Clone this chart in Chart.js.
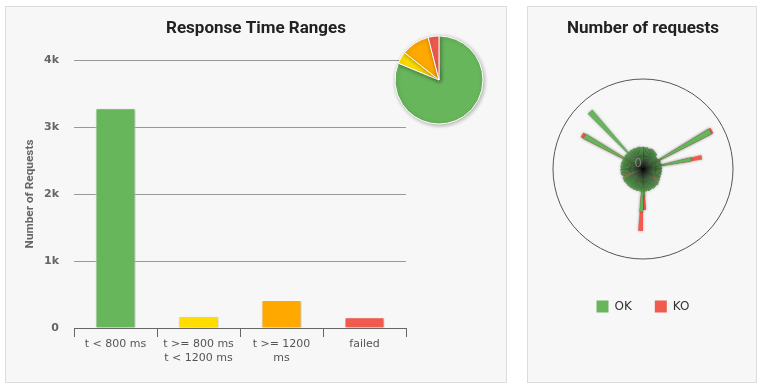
<!DOCTYPE html>
<html><head><meta charset="utf-8">
<script src="https://cdn.jsdelivr.net/npm/chart.js@4.4.1/dist/chart.umd.min.js"></script>
<style>
html,body{margin:0;padding:0;background:#fff;width:762px;height:385px;overflow:hidden}
.panel{position:absolute;background:#f7f7f7;border:1px solid #dcdcdc;box-sizing:border-box}
canvas{position:absolute}
</style></head><body>
<div class="panel" style="left:5px;top:6px;width:502px;height:377px"></div>
<div class="panel" style="left:527px;top:6px;width:230px;height:377px"></div>
<canvas id="bar" width="500" height="376" style="left:6px;top:6px"></canvas>
<canvas id="pie" width="100" height="100" style="left:389px;top:30px"></canvas>
<canvas id="polar" width="230" height="376" style="left:527px;top:6px"></canvas>
<script>
// ---- data ----
const rangeCategories = [['t < 800 ms'], ['t >= 800 ms', 't < 1200 ms'], ['t >= 1200', 'ms'], ['failed']];
const rangeCounts = [3280, 179, 418, 160];
const yTickLabels = ['0', '1k', '2k', '3k', '4k'];
const requestNames = ['request 1','request 2','request 3','request 4','request 5','request 6','request 7','request 8','request 9','request 10',
'request 11','request 12','request 13','request 14','request 15','request 16','request 17','request 18','request 19','request 20',
'request 21','request 22','request 23','request 24','request 25','request 26','request 27','request 28','request 29','request 30',
'request 31','request 32','request 33','request 34','request 35','request 36','request 37','request 38','request 39','request 40',
'request 41','request 42','request 43','request 44','request 45','request 46','request 47','request 48','request 49','request 50',
'request 51','request 52','request 53','request 54','request 55','request 56','request 57','request 58','request 59','request 60',
'request 61','request 62','request 63','request 64','request 65','request 66','request 67','request 68','request 69','request 70',
'request 71','request 72','request 73','request 74','request 75','request 76','request 77','request 78','request 79','request 80'];
const okCounts = [44,43,44,42,43,44,43,42,41,40,
                  36,35,36,154,38,37,38,98,37,38,
                  37,38,37,38,37,38,38,40,24,42,
                  43,42,43,44,43,44,45,44,45,54,
                  86,45,44,45,44,45,44,45,44,45,
                  44,44,45,44,44,0,44,45,44,45,
                  44,45,44,45,44,44,134,44,45,44,
                  156,44,45,44,45,44,44,45,44,44];
const koCounts = [0,0,0,0,0,0,0,0,0,0,
                  0,0,0,4,0,0,0,22,0,0,
                  0,0,0,0,0,0,0,0,16,0,
                  0,0,0,0,0,0,0,0,0,28,
                  38,0,0,0,0,0,0,0,0,0,
                  0,0,0,0,0,42,0,0,0,0,
                  0,0,0,0,0,0,6,0,0,0,
                  0,0,0,0,0,0,0,0,0,0];
const statusLabels = ['OK', 'KO'];
const polarTickLabels = ['0'];

// ---- styles ----
const rangeColors = ['#68b65c', '#ffdd00', '#ffa900', '#f15b4f'];
const statusColors = ['#68b65c', '#f15b4f'];

Chart.defaults.font.family = 'DejaVu Sans';

function shadowPlugin(color, blur, ox, oy) {
  return {
    id: 'shadow',
    beforeDatasetsDraw(chart) {
      const c = chart.ctx; c.save();
      c.shadowColor = color; c.shadowBlur = blur; c.shadowOffsetX = ox; c.shadowOffsetY = oy;
    },
    afterDatasetsDraw(chart) { chart.ctx.restore(); }
  };
}

// ---- bar chart ----
new Chart(document.getElementById('bar'), {
  type: 'bar',
  data: {
    labels: rangeCategories,
    datasets: [{
      data: rangeCounts,
      backgroundColor: rangeColors,
      borderColor: '#ffffff',
      borderWidth: 1,
      categoryPercentage: 0.5,
      barPercentage: 0.964
    }]
  },
  options: {
    responsive: false, animation: false, devicePixelRatio: 1,
    layout: { padding: { left: 0, right: 0, top: 0, bottom: 17 } },
    plugins: {
      legend: { display: false },
      tooltip: { enabled: false },
      title: {
        display: true, text: 'Response Time Ranges', color: '#222',
        font: { family: 'Roboto', size: 17, weight: 'bold', lineHeight: 1.2 },
        padding: { top: 13, bottom: 20.6 }
      }
    },
    scales: {
      x: {
        grid: { display: true, drawOnChartArea: false, drawTicks: true, tickLength: 9, color: '#666', offset: true },
        border: { display: true, color: '#666' },
        ticks: { color: '#555', font: { size: 11, lineHeight: 1.27 }, padding: 0, maxRotation: 0, autoSkip: false },
        afterFit(s) { s.height = 37; }
      },
      y: {
        min: 0, max: 4000,
        grid: { color: '#999', drawTicks: false },
        border: { display: false },
        ticks: {
          stepSize: 1000, padding: 15, color: '#666',
          font: { size: 11, weight: 'bold' },
          callback: (v, i) => yTickLabels[i]
        },
        title: {
          display: true, text: 'Number of Requests', color: '#666',
          font: { family: 'Roboto', size: 11.8, weight: 'bold' }, padding: { top: 16.5, bottom: 0 }
        },
        afterFit(s) { s.width = 68; }
      },
      // empty right-hand gutter (room for the pie inset)
      gutter: {
        type: 'linear', position: 'right', display: true,
        grid: { display: false }, border: { display: false }, ticks: { display: false },
        afterFit(s) { s.width = 100; }
      }
    }
  },
  plugins: [shadowPlugin('rgba(0,0,0,0.25)', 3, 1, 1)]
});

// ---- pie inset ----
new Chart(document.getElementById('pie'), {
  type: 'pie',
  data: {
    labels: rangeCategories.map(l => l.join(' ')),
    datasets: [{ data: rangeCounts, backgroundColor: rangeColors, borderColor: '#ffffff', borderWidth: 1 }]
  },
  options: {
    responsive: false, animation: false, devicePixelRatio: 1,
    layout: { padding: 5.5 },
    plugins: { legend: { display: false }, tooltip: { enabled: false } }
  },
  plugins: [shadowPlugin('rgba(0,0,0,0.3)', 4, 1, 1)]
});

// ---- polar (number of requests) ----
function okFill(ctx) {
  const chart = ctx.chart; const r = chart.scales.r;
  if (!r || r.xCenter === undefined) return statusColors[0];
  const g = chart.ctx.createRadialGradient(r.xCenter, r.yCenter, 0, r.xCenter, r.yCenter, 24);
  g.addColorStop(0, '#000000');
  g.addColorStop(0.2, '#1a3317');
  g.addColorStop(0.45, '#3d7737');
  g.addColorStop(0.8, '#539c4a');
  g.addColorStop(1, statusColors[0]);
  return g;
}
const zeroLabel = {
  id: 'zeroLabel',
  afterDraw(chart) {
    const r = chart.scales.r; const c = chart.ctx;
    c.save();
    c.font = '12px "DejaVu Sans"';
    c.fillStyle = 'rgba(140,140,140,0.85)';
    c.textAlign = 'center'; c.textBaseline = 'middle';
    c.fillText(polarTickLabels[0], r.xCenter - 5, r.yCenter - 5);
    c.restore();
  }
};
new Chart(document.getElementById('polar'), {
  type: 'polarArea',
  data: {
    labels: requestNames,
    datasets: [
      { label: statusLabels[0], data: okCounts, backgroundColor: okFill, borderWidth: 0.5, borderColor: 'rgba(0,0,0,0.2)' },
      { label: statusLabels[1], data: okCounts.map((v, i) => koCounts[i] > 0 ? v + koCounts[i] : 0), backgroundColor: statusColors[1], borderWidth: 0 }
    ]
  },
  options: {
    responsive: false, animation: false, devicePixelRatio: 1,
    layout: { padding: { left: 26, right: 24, top: 0, bottom: 59.5 } },
    scales: {
      r: {
        min: 0, max: 180,
        ticks: { display: false, stepSize: 180 },
        grid: { color: '#555', lineWidth: 1 },
        angleLines: { display: false },
        pointLabels: { display: false }
      }
    },
    plugins: {
      tooltip: { enabled: false },
      title: {
        display: true, text: 'Number of requests', color: '#222',
        font: { family: 'Roboto', size: 17, weight: 'bold', lineHeight: 1.2 },
        padding: { top: 13, bottom: 22.6 }
      },
      legend: {
        position: 'bottom',
        labels: {
          boxWidth: 12, boxHeight: 12, padding: 23, color: '#333',
          font: { size: 12 },
          generateLabels(chart) {
            return chart.data.datasets.map((d, i) => ({
              text: d.label, fillStyle: statusColors[i], strokeStyle: statusColors[i],
              lineWidth: 0, hidden: false, datasetIndex: i, fontColor: '#333'
            }));
          }
        }
      }
    }
  },
  plugins: [shadowPlugin('rgba(0,0,0,0.3)', 3, 0, 0), zeroLabel]
});
</script>
</body></html>
